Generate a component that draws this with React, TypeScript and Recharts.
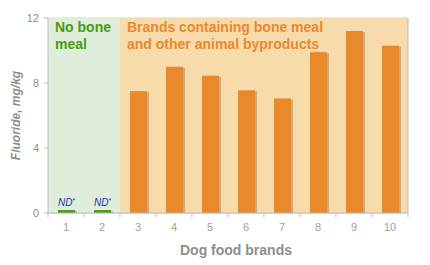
import React from "react";
import {
  BarChart,
  Bar,
  XAxis,
  YAxis,
  CartesianGrid,
  ReferenceArea,
  LabelList,
  Cell,
} from "recharts";

const brands = ["1", "2", "3", "4", "5", "6", "7", "8", "9", "10"];
const fluoride = [0.18, 0.18, 7.5, 9.0, 8.45, 7.55, 7.05, 9.9, 11.2, 10.3];
const hasBoneMeal = [false, false, true, true, true, true, true, true, true, true];
const notes = ["ND*", "ND*", "", "", "", "", "", "", "", ""];
const yTicks = [0, 4, 8, 12];

const data = brands.map((brand, i) => ({
  brand,
  value: fluoride[i],
  bone: hasBoneMeal[i],
  note: notes[i],
}));

const FONT = "Arial, 'Liberation Sans', Helvetica, sans-serif";
const GRAY = "#8e8e8e";
const AXIS = "#b8bcc2";

const ShadowBar = (props: any) => {
  const { x, y, width, height, fill } = props;
  if (!height) return null;
  return (
    <g>
      <rect x={x + 2} y={y + 1} width={width} height={height - 1} fill="rgba(110,90,60,0.35)" />
      <rect x={x} y={y} width={width} height={height} fill={fill} />
    </g>
  );
};

const BrandTick = (props: any) => {
  const { x, y, payload, index } = props;
  const half = payload.offset || 18;
  return (
    <g>
      <line x1={x - half} x2={x - half} y1={y} y2={y + 4} stroke={AXIS} />
      {index === brands.length - 1 && (
        <line x1={x + half} x2={x + half} y1={y} y2={y + 4} stroke={AXIS} />
      )}
      <text x={x} y={y + 18} textAnchor="middle" fontSize={11} fill="#a0a0a0" fontFamily={FONT}>
        {payload.value}
      </text>
    </g>
  );
};

const AreaTitle = ({ lines, color }: { lines: string[]; color: string }) => (props: any) => {
  const { viewBox } = props;
  return (
    <text x={viewBox.x + 7} y={viewBox.y + 14} fontSize={14} fontWeight="bold" fill={color} fontFamily={FONT}>
      {lines.map((l, i) => (
        <tspan key={i} x={viewBox.x + 7} dy={i === 0 ? 0 : 17}>
          {l}
        </tspan>
      ))}
    </text>
  );
};

const NoteLabel = (props: any) => {
  const { x, y, width, value } = props;
  if (!value) return null;
  return (
    <text x={x + width / 2} y={y - 4} textAnchor="middle" fontSize={10} fontStyle="italic" fill="#1f2fa8" fontFamily={FONT}>
      {value.replace("*", "")}
      <tspan fontSize={7} dy={-3}>*</tspan>
    </text>
  );
};

export default function App() {
  return (
    <div style={{ position: "absolute", left: 0, top: 0, width: 430, height: 265, background: "#fff" }}>
      <BarChart
        width={430}
        height={265}
        data={data}
        margin={{ top: 18, right: 0, bottom: 0, left: 0 }}
        barCategoryGap={0}
      >
        <ReferenceArea
          x1="1"
          x2="2"
          y1={0}
          y2={12}
          fill="#deeedb"
          fillOpacity={1}
          stroke="none"
          label={AreaTitle({ lines: ["No bone", "meal"], color: "#4a9a14" })}
        />
        <ReferenceArea
          x1="3"
          x2="10"
          y1={0}
          y2={12}
          fill="#f8dbab"
          fillOpacity={1}
          stroke="none"
          label={AreaTitle({
            lines: ["Brands containing bone meal", "and other animal byproducts"],
            color: "#e8892d",
          })}
        />
        <CartesianGrid vertical={false} stroke="#c9d1da" />
        <XAxis
          dataKey="brand"
          height={52}
          tickSize={0}
          tickMargin={0}
          tickLine={false}
          axisLine={{ stroke: AXIS }}
          tick={<BrandTick />}
          interval={0}
          label={{
            value: "Dog food brands",
            position: "insideBottom",
            offset: 10,
            dx: 8,
            fill: GRAY,
            fontSize: 14,
            fontWeight: "bold",
            fontFamily: FONT,
          }}
        />
        <YAxis
          width={48}
          domain={[0, 12]}
          ticks={yTicks}
          tickSize={4}
          tickMargin={5}
          axisLine={{ stroke: AXIS }}
          tickLine={{ stroke: AXIS }}
          tick={{ fill: GRAY, fontSize: 11, fontFamily: FONT }}
          label={{
            value: "Fluoride, mg/kg",
            angle: -90,
            position: "insideLeft",
            offset: 16,
            style: { textAnchor: "middle" },
            fill: GRAY,
            fontSize: 12,
            fontWeight: "bold",
            fontStyle: "italic",
            fontFamily: FONT,
          }}
        />
        <YAxis
          yAxisId="r"
          orientation="right"
          width={22}
          domain={[0, 12]}
          tick={false}
          tickLine={false}
          axisLine={{ stroke: AXIS }}
        />
        <Bar dataKey="value" barSize={17} shape={<ShadowBar />} isAnimationActive={false}>
          {data.map((d, i) => (
            <Cell key={i} fill={d.bone ? "#e88a2c" : "#4c9a12"} />
          ))}
          <LabelList dataKey="note" content={<NoteLabel />} />
        </Bar>
      </BarChart>
    </div>
  );
}
